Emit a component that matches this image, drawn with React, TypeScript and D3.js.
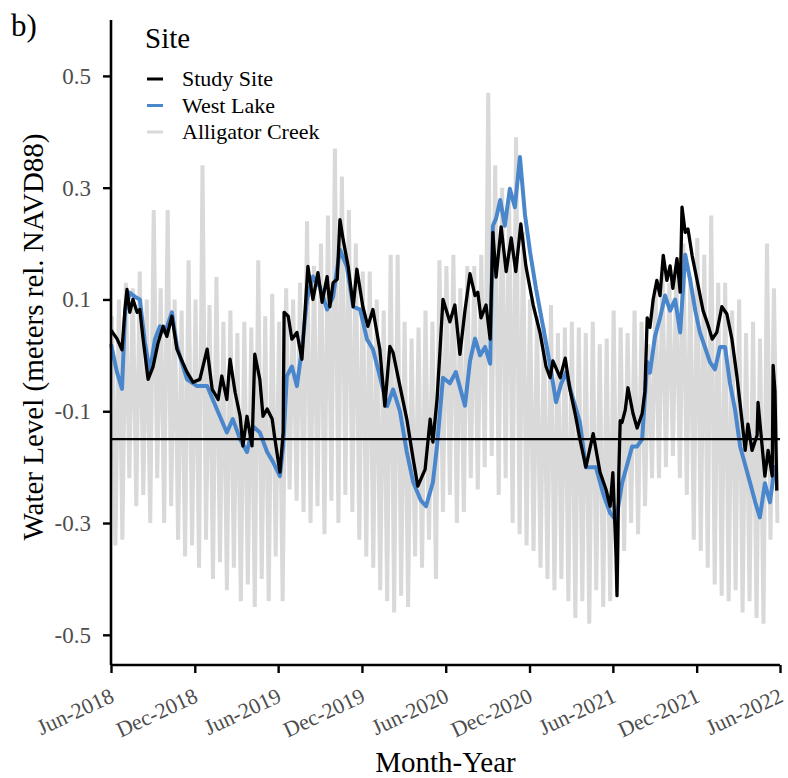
import React, { useEffect, useRef } from 'react';
import * as d3 from 'd3';

const START = new Date(2018, 5, 1);
const END = new Date(2022, 5, 1);

// [days since 1 Jun 2018, water level in m]
const studySite: [number, number][] = [
  [0, 0.045], [13, 0.03], [24, 0.01], [31, 0.087], [35, 0.118], [41, 0.077], [48, 0.1], [57, 0.077],
  [63, 0.082], [70, 0.03], [81, -0.043], [92, -0.02], [103, 0.023], [114, 0.052], [122, 0.034], [133, 0.07],
  [144, 0.011], [155, -0.01], [166, -0.03], [179, -0.048], [194, -0.043], [210, 0.011], [221, -0.061],
  [234, -0.079], [242, -0.037], [253, -0.079], [260, -0.007], [271, -0.066], [282, -0.109], [288, -0.162],
  [297, -0.109], [308, -0.162], [314, 0.002], [325, -0.043], [332, -0.109], [341, -0.096], [352, -0.114],
  [358, -0.15], [369, -0.209], [376, -0.138], [378, 0.077], [387, 0.07], [395, 0.029], [406, 0.041],
  [417, -0.007], [424, 0.082], [430, 0.159], [441, 0.1], [452, 0.148], [461, 0.095], [472, 0.141],
  [478, 0.087], [485, 0.13], [494, 0.136], [500, 0.243], [507, 0.207], [518, 0.159], [529, 0.087],
  [537, 0.154], [550, 0.087], [561, 0.052], [572, 0.082], [587, 0.011], [598, -0.091], [609, 0.016],
  [616, 0.005], [631, -0.055], [646, -0.114], [660, -0.186], [670, -0.234], [686, -0.204], [697, -0.114],
  [703, -0.155], [712, -0.079], [719, 0.016], [725, 0.1], [740, 0.06], [751, 0.09], [762, 0.002],
  [773, 0.08], [784, 0.146], [795, 0.107], [801, 0.113], [808, 0.067], [819, 0.09], [828, 0.029],
  [834, 0.22], [841, 0.14], [852, 0.23], [863, 0.15], [874, 0.21], [884, 0.15], [895, 0.235], [906, 0.16],
  [922, 0.09], [937, 0.04], [950, -0.02], [959, -0.04], [965, -0.01], [981, -0.04], [992, -0.005],
  [1002, -0.06], [1015, -0.11], [1024, -0.15], [1037, -0.2], [1053, -0.14], [1068, -0.209], [1081, -0.24],
  [1090, -0.27], [1096, -0.21], [1103, -0.36], [1105, -0.43], [1109, -0.21], [1112, -0.117], [1116, -0.12],
  [1123, -0.098], [1129, -0.058], [1140, -0.104], [1149, -0.13], [1160, -0.104], [1166, -0.064],
  [1171, 0.067], [1177, 0.05], [1184, 0.1], [1192, 0.134], [1199, 0.107], [1206, 0.179], [1214, 0.134],
  [1221, 0.16], [1227, 0.12], [1236, 0.173], [1243, 0.113], [1247, 0.265], [1254, 0.22], [1260, 0.226],
  [1269, 0.179], [1280, 0.134], [1293, 0.08], [1304, 0.054], [1313, 0.029], [1323, 0.041], [1334, 0.087],
  [1345, 0.074], [1356, 0.029], [1367, -0.038], [1378, -0.117], [1385, -0.17], [1391, -0.123],
  [1400, -0.17], [1411, -0.143], [1413, -0.084], [1422, -0.163], [1428, -0.216], [1435, -0.17],
  [1444, -0.216], [1446, -0.018], [1450, -0.064], [1454, -0.242]
];

const westLake: [number, number][] = [
  [0, 0.02], [13, -0.03], [24, -0.06], [31, 0.08], [41, 0.112], [52, 0.105], [63, 0.1], [74, 0.023],
  [85, -0.03], [96, 0.029], [107, 0.052], [118, 0.041], [133, 0.077], [144, 0.016], [166, -0.043],
  [188, -0.055], [210, -0.055], [231, -0.096], [253, -0.138], [266, -0.114], [282, -0.15], [297, -0.173],
  [310, -0.127], [325, -0.138], [341, -0.173], [354, -0.191], [369, -0.216], [376, -0.162], [384, -0.037],
  [395, -0.02], [406, -0.055], [417, 0.011], [428, 0.1], [441, 0.141], [456, 0.123], [472, 0.082],
  [485, 0.105], [500, 0.189], [515, 0.159], [529, 0.087], [544, 0.082], [559, 0.029], [572, 0.011],
  [587, -0.037], [603, -0.091], [616, -0.061], [631, -0.1], [646, -0.173], [660, -0.227], [677, -0.26],
  [688, -0.27], [703, -0.227], [712, -0.162], [725, -0.04], [740, -0.05], [753, -0.03], [773, -0.09],
  [784, -0.01], [795, 0.03], [806, 0.0], [817, 0.015], [828, -0.015], [834, 0.232], [841, 0.245],
  [850, 0.278], [860, 0.232], [871, 0.298], [882, 0.265], [893, 0.355], [904, 0.252], [915, 0.186],
  [928, 0.12], [943, 0.054], [959, -0.018], [972, -0.084], [983, -0.051], [994, -0.03], [1004, -0.064],
  [1024, -0.12], [1037, -0.2], [1059, -0.2], [1075, -0.248], [1090, -0.282], [1103, -0.295],
  [1116, -0.229], [1127, -0.196], [1138, -0.163], [1149, -0.163], [1160, -0.15], [1171, -0.012],
  [1177, -0.031], [1188, 0.034], [1199, 0.067], [1210, 0.107], [1221, 0.08], [1232, 0.1], [1243, 0.041],
  [1254, 0.18], [1265, 0.134], [1276, 0.08], [1286, 0.041], [1297, 0.015], [1308, -0.012], [1319, -0.025],
  [1330, 0.015], [1341, 0.015], [1352, -0.051], [1363, -0.098], [1374, -0.163], [1385, -0.196],
  [1396, -0.229], [1407, -0.263], [1417, -0.29], [1428, -0.229], [1439, -0.263], [1450, -0.196]
];

// Alligator Creek: high / low reading for each half month
const creekHigh = [
  0.07, 0.1, 0.13, 0.12, 0.15, 0.1, 0.26, 0.12, 0.26, 0.1, 0.08, 0.17, 0.1, 0.34, 0.09, 0.14,
  0.06, 0.08, 0.04, 0.06, 0.05, 0.17, 0.07, 0.11, 0.06, 0.12, 0.1, 0.13, 0.24, 0.16, 0.2, 0.25,
  0.37, 0.32, 0.26, 0.2, 0.15, 0.15, 0.1, 0.08, 0.18, 0.18, 0.06, 0.03, 0.05, 0.08, 0.06, 0.17,
  0.16, 0.18, 0.12, 0.16, 0.16, 0.18, 0.47, 0.34, 0.3, 0.28, 0.39, 0.22, 0.1, 0.07, 0.05, 0.09,
  0.04, 0.05, 0.06, 0.05, 0.04, 0.06, 0.02, 0.03, 0.08, 0.05, 0.04, 0.08, 0.06, 0.02, 0.12, 0.15,
  0.13, 0.16, 0.2, 0.14, 0.21, 0.18, 0.25, 0.13, 0.13, 0.08, 0.1, 0.04, 0.06, 0.03, 0.2, 0.12
];

const creekLow = [
  -0.34, -0.33, -0.22, -0.27, -0.25, -0.3, -0.22, -0.3, -0.27, -0.33, -0.36, -0.34, -0.38, -0.33, -0.4, -0.37,
  -0.42, -0.38, -0.44, -0.41, -0.45, -0.4, -0.44, -0.36, -0.44, -0.24, -0.26, -0.28, -0.3, -0.27, -0.32, -0.26,
  -0.3, -0.25, -0.28, -0.33, -0.36, -0.38, -0.42, -0.44, -0.46, -0.43, -0.45, -0.36, -0.38, -0.33, -0.4, -0.28,
  -0.25, -0.3, -0.28, -0.22, -0.24, -0.2, -0.18, -0.25, -0.22, -0.3, -0.32, -0.34, -0.35, -0.38, -0.4, -0.42,
  -0.4, -0.44, -0.47, -0.44, -0.48, -0.42, -0.45, -0.44, -0.42, -0.35, -0.3, -0.32, -0.27, -0.22, -0.22, -0.2,
  -0.18, -0.22, -0.25, -0.33, -0.35, -0.38, -0.41, -0.43, -0.44, -0.42, -0.46, -0.44, -0.47, -0.48, -0.33, -0.3
];

// x ticks as [year, month index]
const xTickMonths: [number, number][] = [
  [2018, 5], [2018, 11], [2019, 5], [2019, 11], [2020, 5], [2020, 11], [2021, 5], [2021, 11], [2022, 5]
];
const yTicks = [-0.5, -0.3, -0.1, 0.1, 0.3, 0.5];
const referenceLevel = -0.15;
const siteNames = ['Study Site', 'West Lake', 'Alligator Creek'];
const siteColors = ['#000000', '#4A86CB', '#D9D9D9'];

const dayToDate = (d: number) => new Date(START.getTime() + d * 864e5);

export default function App() {
  const svgRef = useRef<SVGSVGElement>(null);
  const width = 788;
  const height = 778;

  useEffect(() => {
    if (!svgRef.current) return;
    const svg = d3.select(svgRef.current);
    svg.selectAll('*').remove();

    const margin = { top: 20, right: 8, bottom: 113, left: 111 };
    const font = '"Liberation Serif", "Times New Roman", serif';

    const x = d3.scaleTime()
      .domain([START, END])
      .range([margin.left, width - margin.right]);

    const y = d3.scaleLinear()
      .domain([-0.554, 0.6])
      .range([height - margin.bottom, margin.top]);

    const line = d3.line<[number, number]>()
      .x(d => x(dayToDate(d[0])))
      .y(d => y(d[1]));

    // tide gauge zigzag: high then low within each half month
    const creekPts: [number, number][] = [];
    creekHigh.forEach((hi, i) => {
      const base = i * (1461 / 96);
      creekPts.push([base + 2, hi]);
      creekPts.push([base + 9.6, creekLow[i]]);
    });

    svg.append('path')
      .datum(creekPts)
      .attr('fill', 'none')
      .attr('stroke', siteColors[2])
      .attr('stroke-width', 4)
      .attr('stroke-linejoin', 'bevel')
      .attr('d', line);

    svg.append('path')
      .datum(westLake)
      .attr('fill', 'none')
      .attr('stroke', siteColors[1])
      .attr('stroke-width', 4)
      .attr('stroke-linejoin', 'round')
      .attr('d', line);

    svg.append('path')
      .datum(studySite)
      .attr('fill', 'none')
      .attr('stroke', siteColors[0])
      .attr('stroke-width', 3.3)
      .attr('stroke-linejoin', 'round')
      .attr('d', line);

    svg.append('line')
      .attr('x1', margin.left)
      .attr('x2', width - margin.right)
      .attr('y1', y(referenceLevel))
      .attr('y2', y(referenceLevel))
      .attr('stroke', '#000')
      .attr('stroke-width', 2.2);

    // axes
    const yAxis = svg.append('g')
      .attr('transform', `translate(${margin.left},0)`)
      .call(d3.axisLeft(y).tickValues(yTicks).tickSize(8).tickPadding(12).tickFormat(d => (+d).toFixed(1)));
    yAxis.attr('font-family', font);
    yAxis.select('.domain').attr('stroke-width', 2.6).attr('d', `M0,${margin.top}V${height - margin.bottom}`);
    yAxis.selectAll('.tick line').attr('stroke-width', 2.4);
    yAxis.selectAll('text')
      .attr('font-family', font)
      .attr('font-size', 23)
      .attr('fill', '#4D4D4D');

    const tickDates = xTickMonths.map(([yr, m]) => new Date(yr, m, 1));
    const xAxis = svg.append('g')
      .attr('transform', `translate(0,${height - margin.bottom})`)
      .call(d3.axisBottom(x).tickValues(tickDates).tickSize(8).tickFormat(d => d3.timeFormat('%b-%Y')(d as Date)));
    xAxis.attr('font-family', font);
    xAxis.select('.domain').attr('stroke-width', 2.6).attr('d', `M${margin.left},0H${width - margin.right}`);
    xAxis.selectAll('.tick line').attr('stroke-width', 2.4);
    xAxis.selectAll('text')
      .attr('font-family', font)
      .attr('font-size', 22)
      .attr('fill', '#4D4D4D')
      .attr('text-anchor', 'end')
      .attr('y', 0)
      .attr('dy', 0)
      .attr('transform', 'translate(4,36) rotate(-25)');

    // titles
    svg.append('text')
      .attr('x', (margin.left + width - margin.right) / 2)
      .attr('y', 772)
      .attr('text-anchor', 'middle')
      .attr('font-family', font)
      .attr('font-size', 29)
      .text('Month-Year');

    svg.append('text')
      .attr('transform', 'translate(43,337) rotate(-90)')
      .attr('text-anchor', 'middle')
      .attr('font-family', font)
      .attr('font-size', 29)
      .text('Water Level (meters rel. NAVD88)');

    svg.append('text')
      .attr('x', 11)
      .attr('y', 36)
      .attr('font-family', font)
      .attr('font-size', 31)
      .text('b)');

    // legend
    const legend = svg.append('g').attr('transform', 'translate(145,0)');
    legend.append('text')
      .attr('x', 0)
      .attr('y', 48)
      .attr('font-family', font)
      .attr('font-size', 29)
      .text('Site');

    siteNames.forEach((name, i) => {
      const cy = 79 + i * 26.5;
      legend.append('line')
        .attr('x1', 2)
        .attr('x2', 18)
        .attr('y1', cy)
        .attr('y2', cy)
        .attr('stroke', siteColors[i])
        .attr('stroke-width', 3);
      legend.append('text')
        .attr('x', 37)
        .attr('y', cy + 7)
        .attr('font-family', font)
        .attr('font-size', 22)
        .text(name);
    });
  }, []);

  return (
    <svg
      ref={svgRef}
      width={width}
      height={height}
      style={{ position: 'absolute', left: 0, top: 0, background: '#fff' }}
    />
  );
}
